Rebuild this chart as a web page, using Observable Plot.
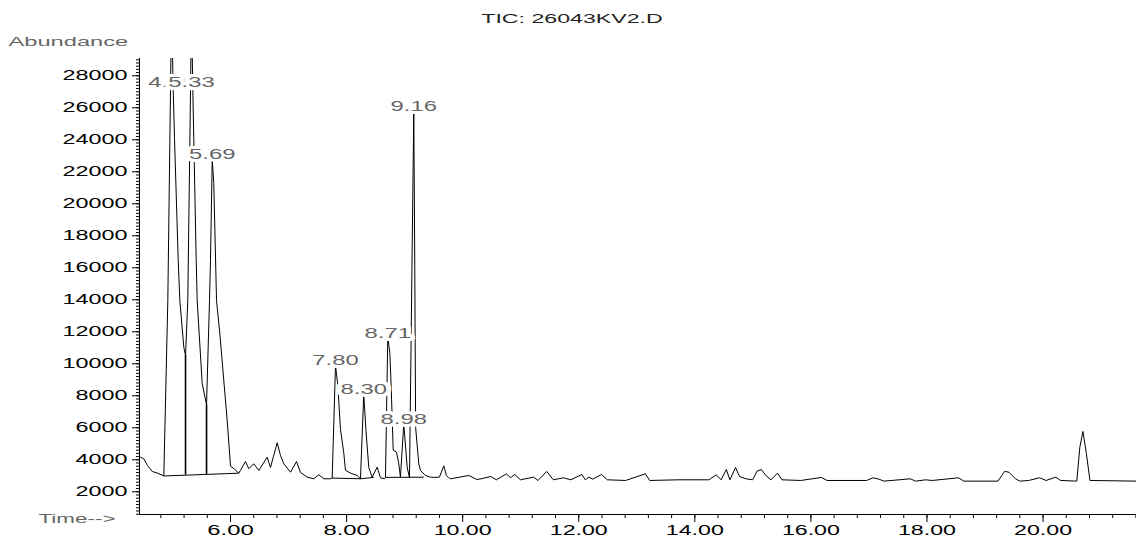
<!DOCTYPE html>
<html><head><meta charset="utf-8">
<script src="https://cdn.jsdelivr.net/npm/d3@7"></script>
<script src="https://cdn.jsdelivr.net/npm/@observablehq/plot@0.6"></script>
<style>body{margin:0;background:#fff;} svg{display:block}</style>
</head><body><div id="chart"></div>
<script>
// Retention times (min) and abundance of the TIC trace
const times = [4.432,4.450,4.506,4.570,4.651,4.737,4.851,4.920,4.966,4.984,5.013,5.035,5.099,5.127,5.196,5.225,5.264,5.311,5.328,5.351,5.368,5.409,5.426,5.512,5.587,5.638,5.655,5.685,5.712,5.759,5.816,5.943,6.000,6.057,6.143,6.258,6.315,6.401,6.488,6.632,6.689,6.804,6.861,6.918,7.034,7.137,7.206,7.321,7.435,7.521,7.607,7.722,7.752,7.809,7.848,7.895,7.952,7.981,8.067,8.182,8.239,8.296,8.334,8.382,8.441,8.527,8.584,8.653,8.670,8.710,8.745,8.768,8.803,8.860,8.899,8.928,8.985,9.044,9.084,9.158,9.175,9.190,9.244,9.273,9.359,9.445,9.520,9.600,9.675,9.720,9.760,9.789,10.106,10.242,10.317,10.483,10.581,10.755,10.823,10.898,10.996,11.223,11.298,11.449,11.562,11.736,11.864,12.053,12.113,12.174,12.242,12.392,12.491,12.808,13.147,13.223,13.713,14.242,14.370,14.453,14.543,14.604,14.702,14.770,14.883,14.996,15.072,15.147,15.223,15.313,15.426,15.502,15.826,16.181,16.279,16.958,17.072,17.170,17.260,17.713,17.804,17.977,18.091,18.543,18.634,19.223,19.336,19.411,19.525,19.600,19.751,19.940,20.053,20.219,20.302,20.581,20.634,20.687,20.747,20.808,21.620];
const abundance = [4163,4163,4063,3644,3269,3175,2988,13956,27081,32500,27081,24144,16456,13956,11019,10519,13956,27081,32000,27081,23956,16456,13956,8769,7438,13956,16456,22769,21269,13956,11894,6456,3600,3456,3163,3894,3438,3750,3331,4163,3519,5063,4269,3750,3225,3894,3206,2913,2813,3063,2813,2813,2856,9894,8694,5900,4413,3344,3169,3019,2813,8081,5830,3538,2913,3538,2875,2813,2900,11625,10700,8600,4600,4475,3770,2913,6250,3538,2875,25769,16000,6000,3750,3331,3019,2913,2900,2913,3620,3019,2880,2810,3019,2769,2810,2956,2748,3123,2873,3081,2748,2915,2706,3269,2748,2873,2748,3081,2748,2915,2790,3081,2748,2706,3123,2706,2748,2748,3060,2748,3394,2748,3519,2956,2810,2748,3290,3394,3019,2748,3165,2748,2706,2894,2706,2706,2873,2790,2665,2810,2665,2748,2706,2873,2665,2665,3269,3227,2810,2665,2706,2873,2706,2915,2706,2665,4790,5769,4373,2706,2665];

// Labelled peaks
const peakTimes = [4.984, 5.328, 5.685, 7.809, 8.296, 8.710, 8.985, 9.158];
const peakLabels = ["4.98", "5.33", "5.69", "7.80", "8.30", "8.71", "8.98", "9.16"];
const peakLabelY = [27300, 27300, 22769, 9894, 8081, 11625, 6250, 25769];

// Integration baselines
const segT1 = [4.851, 7.752, 8.239, 8.670];
const segV1 = [2988, 2856, 2813, 2900];
const segT2 = [6.143, 8.239, 8.468, 9.330];
const segV2 = [3163, 2813, 2900, 2913];
// Drop lines
const dropT = [5.225, 5.587];
const dropTop = [10519, 7438];
const dropBottom = [3039, 3088];

// Axis ticks
const xTicks = [6, 8, 10, 12, 14, 16, 18, 20];
const xMinorTicks = d3.range(4.8, 21.65, 0.4).map(d => +d.toFixed(2));
const yTicks = d3.range(2000, 28001, 2000);
const yMinorTicks = d3.range(600, 29001, 200);

const titleText = "TIC: 26043KV2.D";
const yLabel = "Abundance";
const xLabel = "Time-->";

const trace = times.map((t, i) => ({t, v: abundance[i]}));
const peaks = peakTimes.map((t, i) => ({t, v: peakLabelY[i], label: peakLabels[i]}));
const segs = segT1.map((t, i) => ({x1: t, y1: segV1[i], x2: segT2[i], y2: segV2[i]}));
const drops = dropT.map((t, i) => ({t, top: dropTop[i], bottom: dropBottom[i]}));

const FONT = "'Liberation Sans', Arial, Helvetica, sans-serif";
const Y_LABEL_FILL = "#010101";

const chart = Plot.plot({
  width: 1136, height: 537,
  marginLeft: 139, marginRight: 0, marginTop: 58, marginBottom: 23,
  style: {fontFamily: FONT, fontSize: "13px", background: "#fff", color: "#000", overflow: "visible"},
  x: {domain: [4.432, 21.61], label: null},
  y: {domain: [580, 29080], label: null},
  marks: [
    Plot.axisY({ticks: yMinorTicks, tickSize: 3, tickFormat: () => "", label: null}),
    Plot.axisY({ticks: yTicks, tickSize: 7, tickFormat: () => "", label: null}),
    Plot.text(yTicks, {y: d => d, text: d => String(d), frameAnchor: "left", textAnchor: "end", dx: -12, fill: Y_LABEL_FILL, fontSize: 14}),
    Plot.axisX({ticks: xMinorTicks, tickSize: 4, tickFormat: () => "", label: null}),
    Plot.axisX({ticks: xTicks, tickSize: 8, tickPadding: 3, tickFormat: d => d.toFixed(2), label: null, fontSize: 14}),
    Plot.ruleX([4.432], {stroke: "#000", strokeWidth: 1}),
    Plot.ruleY([580], {stroke: "#000", strokeWidth: 1}),
    Plot.link(segs, {x1: "x1", y1: "y1", x2: "x2", y2: "y2", stroke: "#000", strokeWidth: 1}),
    Plot.ruleX(drops, {x: "t", y1: "top", y2: "bottom", stroke: "#000", strokeWidth: 1.6}),
    Plot.line(trace, {x: "t", y: "v", stroke: "#000", strokeWidth: 1, clip: true}),
    Plot.text(peaks, {x: "t", y: "v", text: "label", lineAnchor: "bottom", dy: 0, fill: "#666", stroke: "#fff", strokeWidth: 6, fontSize: 14}),
    Plot.text([titleText], {frameAnchor: "top", dx: -66, dy: -45, fill: "#222", fontSize: 13}),
    Plot.text([yLabel], {frameAnchor: "top-left", dx: -131, dy: -22, textAnchor: "start", fill: "#666", fontSize: 13}),
    Plot.text([xLabel], {frameAnchor: "bottom-left", dx: -101, dy: 8, textAnchor: "start", fill: "#666", fontSize: 13})
  ]
});
document.getElementById("chart").append(chart);

// horizontally stretched glyphs, as in the instrument printout
function widen(el, target) {
  el.setAttribute("textLength", target.toFixed(1));
  el.setAttribute("lengthAdjust", "spacingAndGlyphs");
}
// y tick labels: found through their mark's fill, independent of their content
chart.querySelectorAll("g").forEach(g => {
  if ((g.getAttribute("fill") || "").toLowerCase() === Y_LABEL_FILL) {
    g.querySelectorAll("text").forEach(el => {
      const s = (el.textContent || "").trim();
      if (s) widen(el, s.length * 13);
    });
  }
});
const xTickStr = new Set(xTicks.map(d => d.toFixed(2)));
const peakStr = new Set(peakLabels);
chart.querySelectorAll("text").forEach(el => {
  const s = (el.textContent || "").trim();
  if (!s || el.hasAttribute("textLength")) return;
  let pc = null;
  if (/^\d{4,5}$/.test(s)) pc = 13;
  else if (xTickStr.has(s)) pc = 11.6;
  else if (peakStr.has(s)) pc = 11.6;
  else if (s === titleText) pc = 12.1;
  else if (s === yLabel) pc = 13.3;
  else if (s === xLabel) pc = 11;
  if (pc == null) return;
  widen(el, s.length * pc);
});
</script>
</body></html>
